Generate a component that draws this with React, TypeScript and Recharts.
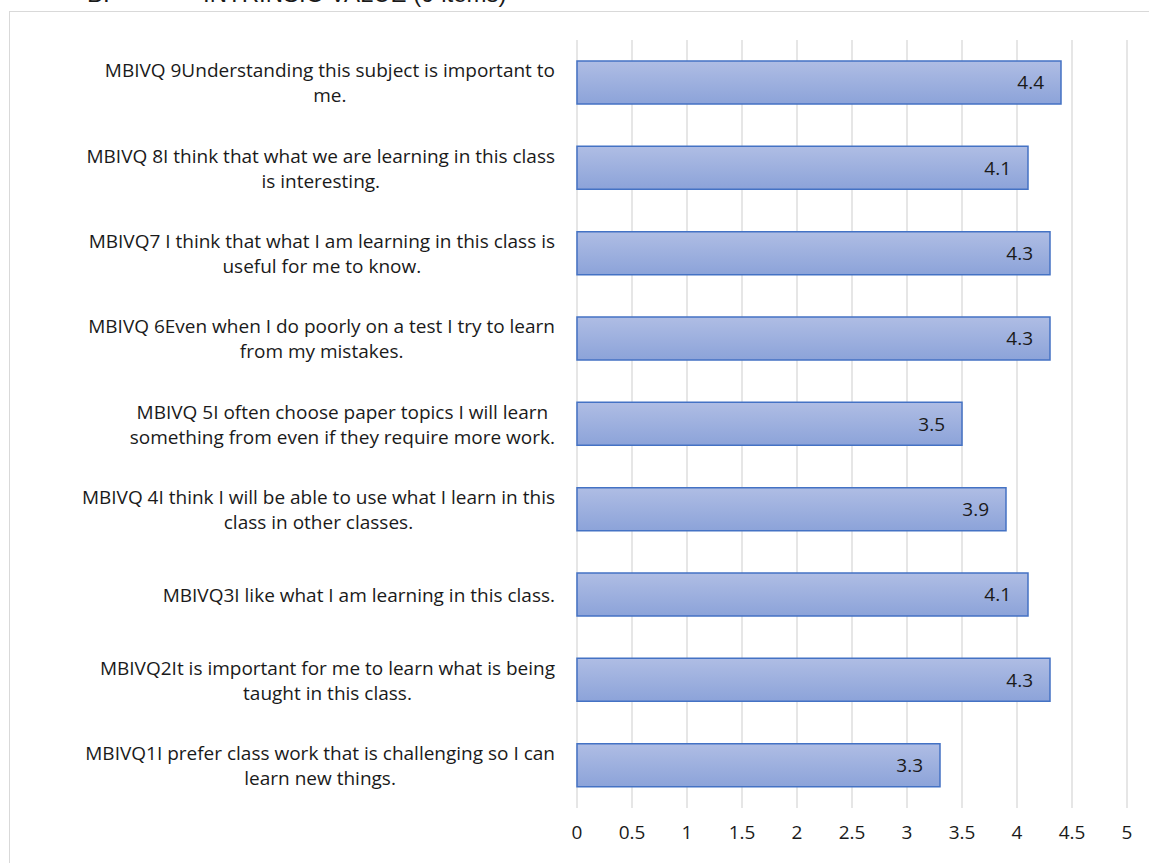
import React from "react";
import { BarChart, Bar, XAxis, YAxis, CartesianGrid, LabelList } from "recharts";

// categories, bottom to top (line breaks as in the original chart)
const items = [
  "MBIVQ1I prefer class work that is challenging so I can\nlearn new things.",
  "MBIVQ2It is important for me to learn what is being\ntaught in this class.",
  "MBIVQ3I like what I am learning in this class.",
  "MBIVQ 4I think I will be able to use what I learn in this\nclass in other classes.",
  "MBIVQ 5I often choose paper topics I will learn\nsomething from even if they require more work.",
  "MBIVQ 6Even when I do poorly on a test I try to learn\nfrom my mistakes.",
  "MBIVQ7 I think that what I am learning in this class is\nuseful for me to know.",
  "MBIVQ 8I think that what we are learning in this class\nis interesting.",
  "MBIVQ 9Understanding this subject is important to\nme.",
];
const means = [3.3, 4.3, 4.1, 3.9, 3.5, 4.3, 4.3, 4.1, 4.4];
const xTicks = [0, 0.5, 1, 1.5, 2, 2.5, 3, 3.5, 4, 4.5, 5];

const FONT = "'Open Sans', sans-serif";
const FS = 19;

const data = items.map((name, i) => ({ name, value: means[i] }));

let ctx: CanvasRenderingContext2D | null = null;
function textWidth(s: string) {
  if (!ctx) ctx = document.createElement("canvas").getContext("2d");
  if (!ctx) return s.length * 9;
  ctx.font = `${FS}px 'Open Sans'`;
  return ctx.measureText(s).width;
}

function ItemTick(props: any) {
  const { x, y, payload } = props;
  const lines = String(payload.value).split("\n");
  const w = Math.max(...lines.map(textWidth));
  const cx = x - 22 - w / 2;
  return (
    <g>
      {lines.map((l, i) => (
        <text
          key={i}
          x={cx}
          y={y + (i - (lines.length - 1) / 2) * 25}
          textAnchor="middle"
          dominantBaseline="central"
          fontFamily={FONT}
          fontSize={FS}
          fill="#1a1a1a"
        >
          {l}
        </text>
      ))}
    </g>
  );
}

export default function App() {
  const titleStyle: React.CSSProperties = {
    position: "absolute",
    top: -18,
    fontFamily: "'Liberation Sans', Arial, sans-serif",
    fontSize: 24,
    lineHeight: "24px",
    color: "#1a1a1a",
    whiteSpace: "nowrap",
  };
  return (
    <div
      style={{
        position: "fixed",
        left: 0,
        top: 0,
        width: 1149,
        height: 863,
        overflow: "hidden",
        background: "#fff",
        fontFamily: FONT,
      }}
    >
      <div style={{ ...titleStyle, left: 87 }}>B.</div>
      <div style={{ ...titleStyle, left: 203 }}>INTRINSIC VALUE (9 items)</div>
      <div
        style={{
          position: "absolute",
          left: 9,
          top: 11,
          width: 1160,
          height: 900,
          border: "1px solid #d9d9d9",
          boxSizing: "border-box",
        }}
      />
      <div style={{ position: "absolute", left: 0, top: 0 }}>
        <BarChart
          width={1149}
          height={863}
          data={data}
          layout="vertical"
          margin={{ top: 40, right: 22, bottom: 25, left: 0 }}
          barSize={43}
        >
          <defs>
            <linearGradient id="barFill" x1="0" y1="0" x2="0" y2="1">
              <stop offset="0%" stopColor="#afbde4" />
              <stop offset="100%" stopColor="#8ca3d9" />
            </linearGradient>
          </defs>
          <CartesianGrid horizontal={false} stroke="#d9d9d9" strokeWidth={1.3} />
          <XAxis
            type="number"
            domain={[0, 5]}
            ticks={xTicks}
            interval={0}
            axisLine={false}
            tickLine={false}
            tickMargin={12}
            height={30}
            tick={{ fill: "#1a1a1a", fontSize: 19, fontFamily: FONT }}
          />
          <YAxis
            type="category"
            dataKey="name"
            reversed
            width={577}
            axisLine={false}
            tickLine={false}
            tickSize={0}
            tickMargin={0}
            interval={0}
            tick={<ItemTick />}
          />
          <Bar
            dataKey="value"
            fill="url(#barFill)"
            stroke="#4472c4"
            strokeWidth={1.5}
            isAnimationActive={false}
          >
            <LabelList
              dataKey="value"
              position="insideRight"
              offset={17}
              fill="#1a1a1a"
              fontSize={19}
              fontFamily={FONT}
              formatter={(v: any) => Number(v).toFixed(1)}
            />
          </Bar>
        </BarChart>
      </div>
    </div>
  );
}
